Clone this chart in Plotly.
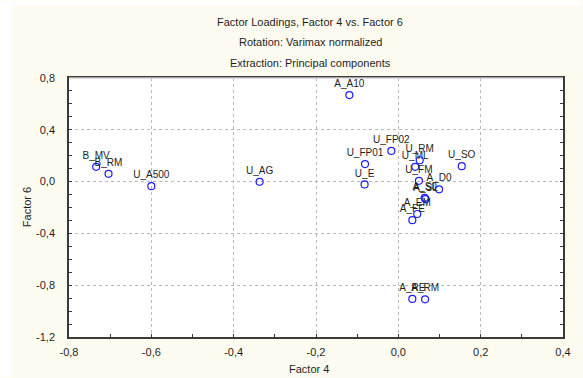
import plotly.graph_objects as go

# Factor loadings (Factor 4 on x, Factor 6 on y) for each variable
variables = ["A_A10", "B_MV", "B_RM", "U_A500", "U_AG", "U_FP02", "U_FP01", "U_E",
             "U_RM", "U_ML", "U_SO", "U_FM", "A_D0", "A_S0", "A_SL", "A_EM", "A_FE",
             "A_RE", "A_RM"]
factor4 = [-0.119, -0.734, -0.704, -0.600, -0.337, -0.017, -0.081, -0.082,
           0.052, 0.041, 0.154, 0.050, 0.099, 0.064, 0.066, 0.046, 0.034,
           0.034, 0.065]
factor6 = [0.668, 0.114, 0.060, -0.035, -0.002, 0.237, 0.135, -0.022,
           0.165, 0.114, 0.119, 0.006, -0.060, -0.125, -0.135, -0.250, -0.298,
           -0.906, -0.909]

x_ticks = [-0.8, -0.6, -0.4, -0.2, 0.0, 0.2, 0.4]
y_ticks = [-1.2, -0.8, -0.4, 0.0, 0.4, 0.8]
x_tick_text = ["-0,8", "-0,6", "-0,4", "-0,2", "0,0", "0,2", "0,4"]
y_tick_text = ["-1,2", "-0,8", "-0,4", "0,0", "0,4", "0,8"]

title_lines = ["Factor Loadings, Factor 4 vs. Factor 6",
               "Rotation: Varimax normalized",
               "Extraction: Principal components"]
x_title = "Factor 4"
y_title = "Factor 6"

FONT = "Liberation Sans"
CREAM = "#FEFCF0"
TEXT = "#1e1e1e"
AXIS = "#3a3a3a"

W, H = 583, 378
L, R, T, B = 69, 18, 77.5, 40.5
pw, ph = W - L - R, H - T - B


def px(x):
    return (x - L) / pw


def py(y):
    return (H - B - y) / ph


fig = go.Figure()
fig.add_trace(go.Scatter(
    x=factor4, y=factor6, text=variables,
    mode="markers+text", textposition="top center",
    textfont=dict(family=FONT, size=10, color=TEXT),
    marker=dict(symbol="circle-open", size=7, color="#1f1fff",
                line=dict(width=1.2, color="#1f1fff")),
    cliponaxis=False, hoverinfo="text",
))

axis_common = dict(
    showline=True, linecolor=AXIS, linewidth=1.5,
    ticks="inside", ticklen=3, tickcolor=AXIS, tickwidth=1,
    showgrid=True, gridcolor="#b8b8b8", griddash="dot", gridwidth=1,
    zeroline=False, tickfont=dict(family=FONT, size=11, color=TEXT),
    tickmode="array",
)

fig.update_xaxes(
    range=[-0.8, 0.4], tickvals=x_ticks, ticktext=x_tick_text, mirror=True,
    minor=dict(tickmode="linear", tick0=0, dtick=0.1, ticks="inside",
               ticklen=3, tickcolor=AXIS, showgrid=False),
    ticklabelstandoff=4,
    **axis_common,
)
fig.update_yaxes(
    range=[-1.2, 0.8], tickvals=y_ticks, ticktext=y_tick_text, mirror="ticks",
    minor=dict(tickmode="linear", tick0=0, dtick=0.1, ticks="inside",
               ticklen=3, tickcolor=AXIS, showgrid=False),
    ticklabelstandoff=10,
    **axis_common,
)

annotations = []
for i, line in enumerate(title_lines):
    annotations.append(dict(
        text=line, x=px(311), y=py(21 + 20.5 * i), xref="paper", yref="paper",
        showarrow=False, xanchor="center", yanchor="middle",
        font=dict(family=FONT, size=11, color=TEXT)))
annotations.append(dict(
    text=x_title, x=px(310), y=py(370), xref="paper", yref="paper",
    showarrow=False, xanchor="center", yanchor="middle",
    font=dict(family=FONT, size=11, color=TEXT)))
annotations.append(dict(
    text=y_title, x=px(27), y=py(207), xref="paper", yref="paper",
    showarrow=False, xanchor="center", yanchor="middle", textangle=-90,
    font=dict(family=FONT, size=11, color=TEXT)))

shapes = [
    # white strips along the left and top edges of the page
    dict(type="rect", xref="paper", yref="paper", x0=px(0), x1=px(11),
         y0=py(H), y1=py(0), fillcolor="white", line_width=0, layer="below"),
    dict(type="rect", xref="paper", yref="paper", x0=px(0), x1=px(W),
         y0=py(5), y1=py(0), fillcolor="white", line_width=0, layer="below"),
    # lighter top border of the plot frame
    dict(type="line", xref="paper", yref="paper", x0=0, x1=1, y0=1, y1=1,
         line=dict(color="#cfcfcf", width=1.5), layer="above"),
]

fig.update_layout(
    width=W, height=H, margin=dict(l=L, r=R, t=T, b=B, pad=0),
    paper_bgcolor=CREAM, plot_bgcolor="white", showlegend=False,
    annotations=annotations, shapes=shapes,
)

fig.write_html("out.html")
